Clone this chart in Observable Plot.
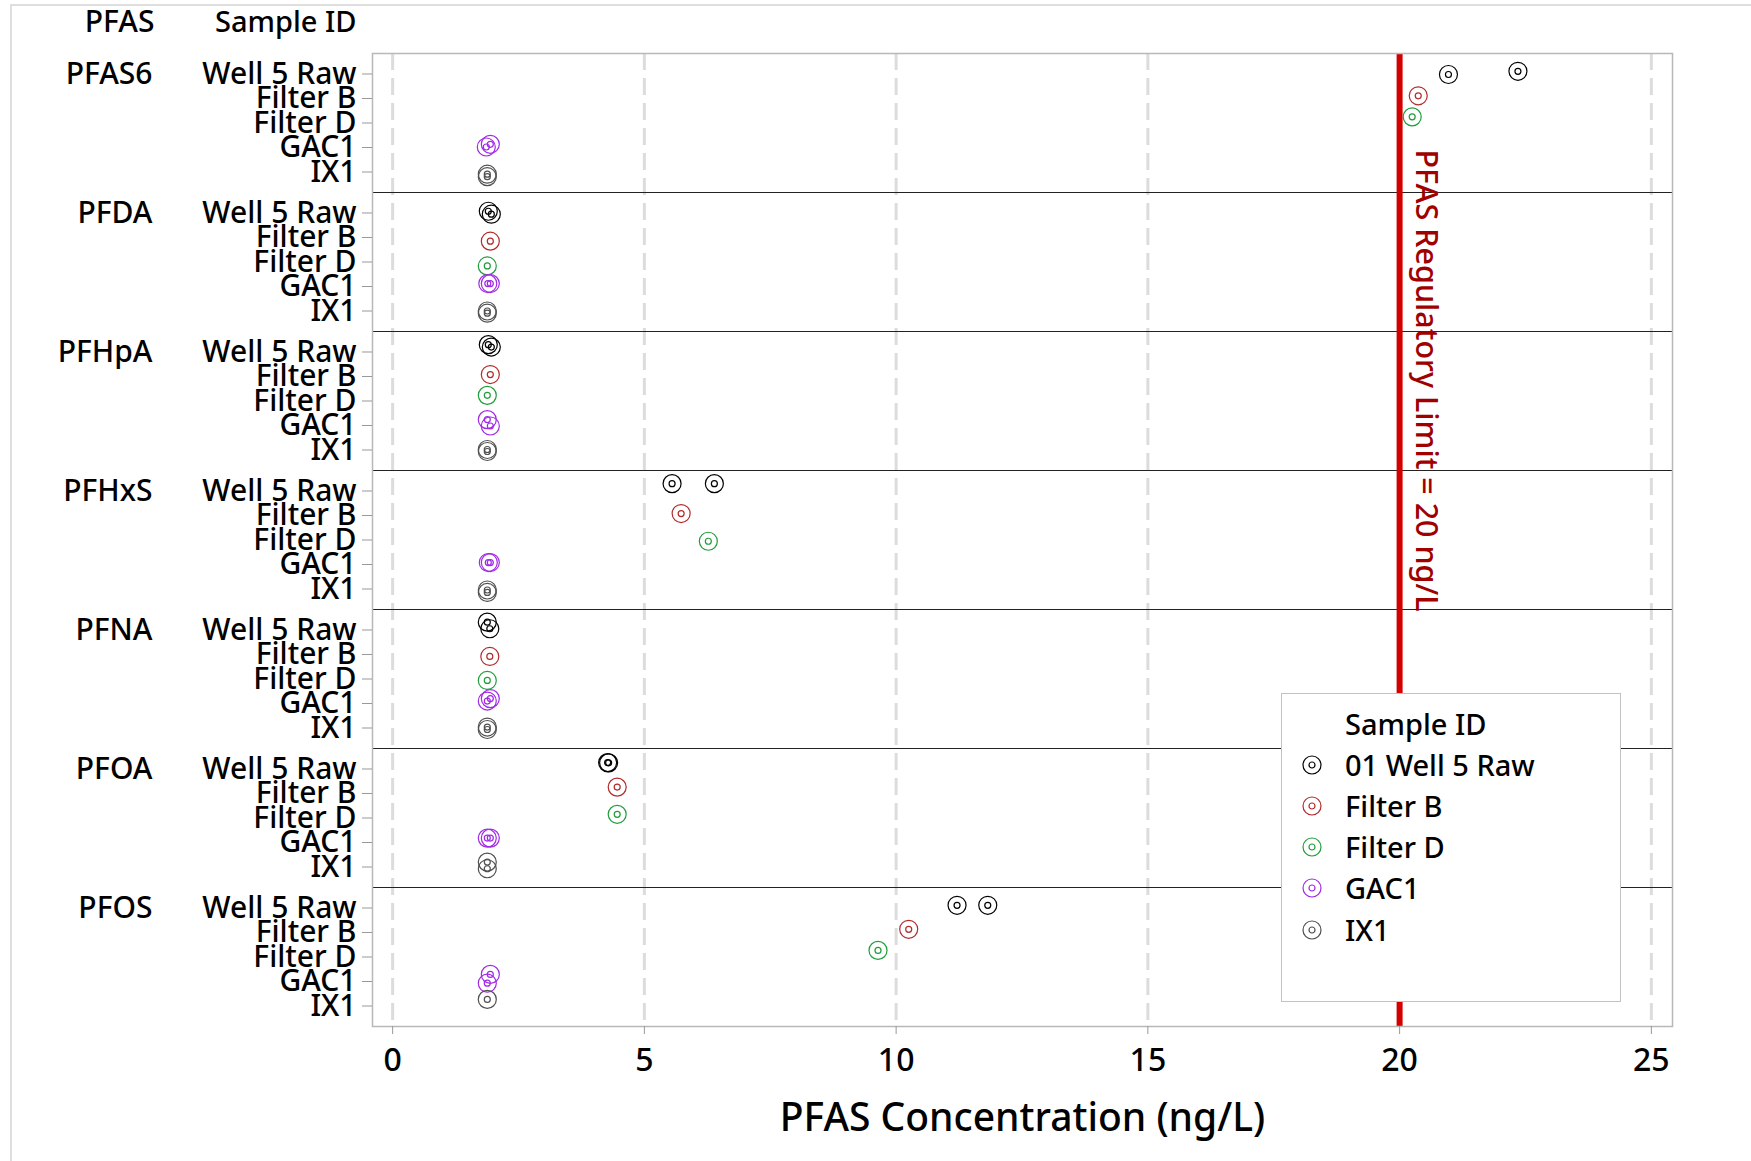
<!DOCTYPE html>
<html>
<head>
<meta charset="utf-8">
<script src="https://cdn.jsdelivr.net/npm/d3@7"></script>
<script src="https://cdn.jsdelivr.net/npm/@observablehq/plot@0.6"></script>
<style>
  html, body { margin: 0; padding: 0; background: #fff; }
  body { font-family: 'Noto Sans', sans-serif; }
  #wrap { position: relative; width: 1751px; height: 1161px; overflow: hidden; background: #fff; }
  #outer { position: absolute; left: 10px; top: 4px; width: 3000px; height: 3000px; border: 2px solid #dedede; }
  #chart { position: absolute; left: 0; top: 0; }
  #legend { position: absolute; left: 1281px; top: 693px; width: 338px; height: 307px;
            border: 1.5px solid #c2c2c2; background: #fff; }
  .lrow { position: absolute; left: 0; height: 40px; line-height: 40px; font-size: 29px; font-weight: 500; color: #000; white-space: nowrap; }
  .lrow svg { position: absolute; left: 18px; top: 8px; }
  .lrow span { position: absolute; left: 63px; top: 0; }
</style>
</head>
<body>
<div id="wrap">
  <div id="outer"></div>
  <div id="chart"></div>
  <div id="legend"></div>
</div>
<script>
// ---------- data ----------
const pfasList = ["PFAS6", "PFDA", "PFHpA", "PFHxS", "PFNA", "PFOA", "PFOS"];
const sampleIds = ["Well 5 Raw", "Filter B", "Filter D", "GAC1", "IX1"];
const legendTitle = "Sample ID";
const legendLabels = ["01 Well 5 Raw", "Filter B", "Filter D", "GAC1", "IX1"];
const sampleColors = ["#000000", "#b22a2a", "#1f9e3b", "#a02ae6", "#505050"];
const xTicks = [0, 5, 10, 15, 20, 25];
const regulatoryLimit = 20;
const limitLabel = "PFAS Regulatory Limit = 20 ng/L";
const xLabel = "PFAS Concentration (ng/L)";
const headerPfas = "PFAS";
const headerSample = "Sample ID";

// measurements per PFAS: [sample, concentration (ng/L), vertical jitter (rows)]
const pfas6 = [["Well 5 Raw", 20.97, 0.02], ["Well 5 Raw", 22.35, -0.11], ["Filter B", 20.37, -0.11], ["Filter D", 20.25, -0.25],
               ["GAC1", 1.86, -0.02], ["GAC1", 1.94, -0.13], ["IX1", 1.88, 0.09], ["IX1", 1.88, 0.19]];
const pfda  = [["Well 5 Raw", 1.90, -0.07], ["Well 5 Raw", 1.96, 0.05], ["Filter B", 1.94, 0.15], ["Filter D", 1.88, 0.16],
               ["GAC1", 1.89, -0.12], ["GAC1", 1.94, -0.12], ["IX1", 1.88, 0.0], ["IX1", 1.88, 0.09]];
const pfhpa = [["Well 5 Raw", 1.90, -0.30], ["Well 5 Raw", 1.96, -0.20], ["Filter B", 1.94, -0.08], ["Filter D", 1.88, -0.23],
               ["GAC1", 1.88, -0.24], ["GAC1", 1.94, 0.02], ["IX1", 1.88, -0.02], ["IX1", 1.88, 0.06]];
const pfhxs = [["Well 5 Raw", 5.55, -0.30], ["Well 5 Raw", 6.39, -0.30], ["Filter B", 5.73, -0.08], ["Filter D", 6.27, 0.05],
               ["GAC1", 1.90, -0.08], ["GAC1", 1.94, -0.08], ["IX1", 1.88, 0.04], ["IX1", 1.88, 0.14]];
const pfna  = [["Well 5 Raw", 1.88, -0.32], ["Well 5 Raw", 1.93, -0.05], ["Filter B", 1.93, 0.08], ["Filter D", 1.88, 0.06],
               ["GAC1", 1.88, -0.10], ["GAC1", 1.94, -0.20], ["IX1", 1.88, -0.04], ["IX1", 1.88, 0.06]];
const pfoa  = [["Well 5 Raw", 4.27, -0.26], ["Well 5 Raw", 4.29, -0.25], ["Filter B", 4.46, -0.26], ["Filter D", 4.46, -0.15],
               ["GAC1", 1.88, -0.18], ["GAC1", 1.94, -0.18], ["IX1", 1.88, -0.20], ["IX1", 1.88, 0.07]];
const pfos  = [["Well 5 Raw", 11.21, -0.11], ["Well 5 Raw", 11.82, -0.11], ["Filter B", 10.25, -0.13], ["Filter D", 9.64, -0.27],
               ["GAC1", 1.94, -0.29], ["GAC1", 1.88, 0.07], ["IX1", 1.88, -0.27]];

// ---------- layout (row units) ----------
const PANEL = 5.672;   // panel height in sample rows
const PAD = 0.836;     // padding before first row in each panel

const groups = [pfas6, pfda, pfhpa, pfhxs, pfna, pfoa, pfos];
const measurements = groups.flatMap((rows, p) =>
  rows.map(([s, c, j]) => ({pfas: pfasList[p], p, s, si: sampleIds.indexOf(s), c, j})));
const rowPos = (p, si) => p * PANEL + PAD + si;
const yPos = d => rowPos(d.p, d.si) + d.j;

const tickPositions = [];
const tickLabel = new Map();
pfasList.forEach((_, p) => sampleIds.forEach((s, si) => {
  const v = rowPos(p, si);
  tickPositions.push(v);
  tickLabel.set(v, s);
}));
const separators = d3.range(1, pfasList.length).map(p => p * PANEL);

const font = "'Noto Sans', sans-serif";

const chart = Plot.plot({
  width: 1751,
  height: 1161,
  marginLeft: 372,
  marginRight: 79,
  marginTop: 53,
  marginBottom: 135,
  style: {fontFamily: font, fontWeight: 500, background: "transparent", overflow: "visible", color: "#000"},
  x: {domain: [-0.4, 25.42]},
  y: {domain: [0, pfasList.length * PANEL], reverse: true},
  color: {domain: sampleIds, range: sampleColors},
  marks: [
    Plot.ruleX(xTicks, {stroke: "#dcdcdc", strokeWidth: 3, strokeDasharray: "17,8"}),
    Plot.ruleY(separators, {stroke: "#222", strokeWidth: 1.2}),
    Plot.ruleX([regulatoryLimit], {stroke: "#d40000", strokeWidth: 6}),
    Plot.text([limitLabel], {x: () => regulatoryLimit, frameAnchor: "top", rotate: 90, textAnchor: "start",
      lineAnchor: "middle", dx: 26, dy: 96, fill: "#a00000", fontSize: 30.5}),
    Plot.dot(measurements, {x: "c", y: yPos, r: 9, stroke: "s", strokeWidth: 1.2}),
    Plot.dot(measurements, {x: "c", y: yPos, r: 3, stroke: "s", strokeWidth: 1.2}),
    Plot.frame({stroke: "#b8b8b8", strokeWidth: 1.5}),
    Plot.axisX({ticks: xTicks, tickSize: 8, tickPadding: 14, fontSize: 32, label: null, stroke: "#999", fill: "#000"}),
    Plot.axisY({ticks: tickPositions, tickFormat: v => tickLabel.get(v), tickSize: 10, tickPadding: 6,
      fontSize: 30, label: null, stroke: "#999", fill: "#000"}),
    Plot.text(pfasList, {y: (d, i) => rowPos(i, 0), frameAnchor: "left", dx: -220, textAnchor: "end", fontSize: 30}),
    Plot.text([headerPfas], {frameAnchor: "top-left", dx: -218, dy: -31, textAnchor: "end", lineAnchor: "middle", fontSize: 30}),
    Plot.text([headerSample], {frameAnchor: "top-left", dx: -16, dy: -31, textAnchor: "end", lineAnchor: "middle", fontSize: 29}),
    Plot.text([xLabel], {frameAnchor: "bottom", dy: 92, lineAnchor: "middle", fontSize: 39})
  ]
});
document.getElementById("chart").appendChild(chart);

// ---------- legend ----------
const legend = document.getElementById("legend");
const title = document.createElement("div");
title.className = "lrow";
title.style.top = "10px";
title.innerHTML = `<span>${legendTitle}</span>`;
legend.appendChild(title);
legendLabels.forEach((lab, i) => {
  const row = document.createElement("div");
  row.className = "lrow";
  row.style.top = (50.5 + 41.3 * i) + "px";
  const col = sampleColors[i];
  row.innerHTML = `<svg width="24" height="24" viewBox="-12 -12 24 24"><circle r="9" fill="none" stroke="${col}" stroke-width="1.2"/><circle r="3" fill="none" stroke="${col}" stroke-width="1.2"/></svg><span>${lab}</span>`;
  legend.appendChild(row);
});
</script>
</body>
</html>
